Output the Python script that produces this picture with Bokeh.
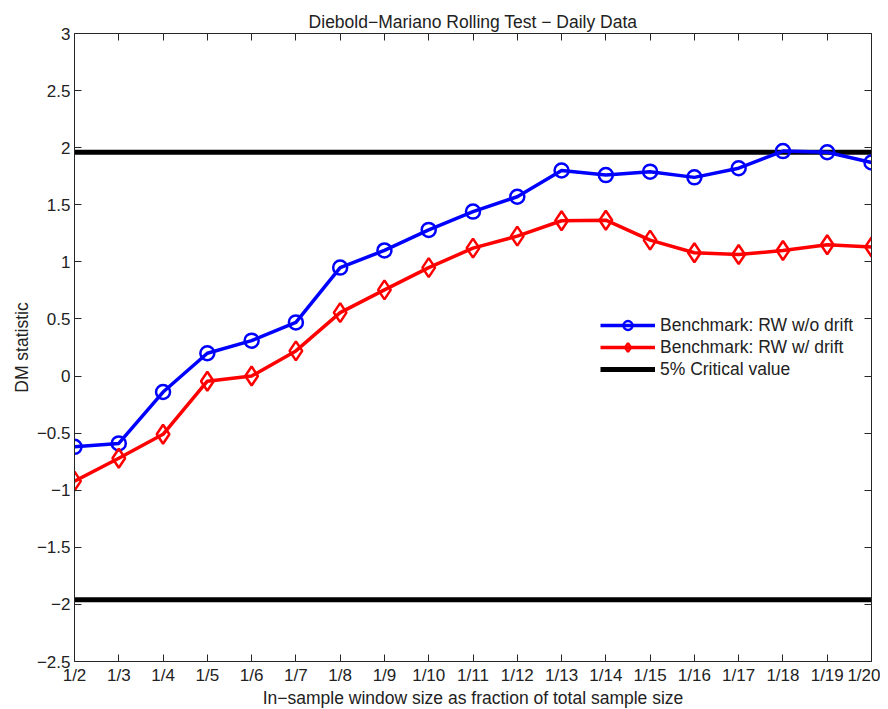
from bokeh.plotting import figure
from bokeh.models import Range1d, FixedTicker, LinearAxis, Legend, LegendItem
from bokeh.embed import file_html
from bokeh.resources import INLINE

categories = ["1/2", "1/3", "1/4", "1/5", "1/6", "1/7", "1/8", "1/9", "1/10", "1/11",
              "1/12", "1/13", "1/14", "1/15", "1/16", "1/17", "1/18", "1/19", "1/20"]
rw_no_drift = [-0.62, -0.59, -0.14, 0.20, 0.31, 0.47, 0.95, 1.10, 1.28, 1.44,
               1.57, 1.80, 1.76, 1.79, 1.74, 1.82, 1.97, 1.96, 1.87]
rw_drift = [-0.92, -0.72, -0.51, -0.045, 0.00, 0.22, 0.555, 0.755, 0.95, 1.12,
            1.225, 1.36, 1.365, 1.19, 1.08, 1.064, 1.10, 1.15, 1.13]
critical_value = 1.96
y_ticks = [-2.5, -2, -1.5, -1, -0.5, 0, 0.5, 1, 1.5, 2, 2.5, 3]

xs = list(range(len(categories)))
FONT = "Liberation Sans"
AXIS_COLOR = "#262626"
TEXT_COLOR = "#222222"

p = figure(frame_width=797, frame_height=628, output_backend="svg", toolbar_location=None,
           x_range=Range1d(0, len(categories) - 1), y_range=Range1d(-2.5, 3),
           min_border_left=74, min_border_right=9, min_border_top=33, min_border_bottom=40,
           title="Diebold\u2212Mariano Rolling Test \u2212 Daily Data")
p.title.align = "center"
p.title.text_font = FONT
p.title.text_font_size = "17.5px"
p.title.text_font_style = "normal"
p.title.text_color = TEXT_COLOR
p.title.offset = 0
p.title.standoff = 4

p.grid.visible = False
p.outline_line_color = None
p.background_fill_color = "white"

xlabels = {i: c for i, c in enumerate(categories)}
ylabels = {v: (("%g" % v).replace("-", "\u2212")) for v in y_ticks}

def style_axis(ax, show_labels):
    ax.axis_line_color = AXIS_COLOR
    ax.axis_line_width = 1
    ax.major_tick_line_color = AXIS_COLOR
    ax.major_tick_in = 7
    ax.major_tick_out = 0
    ax.minor_tick_line_color = None
    ax.major_label_text_font = FONT
    ax.major_label_text_font_size = "17px"
    ax.major_label_text_color = TEXT_COLOR
    if not show_labels:
        ax.major_label_text_font_size = "0px"
        ax.major_label_text_alpha = 0
        ax.major_label_standoff = 0

p.xaxis.ticker = FixedTicker(ticks=xs)
p.xaxis.major_label_overrides = xlabels
p.yaxis.ticker = FixedTicker(ticks=y_ticks)
p.yaxis.major_label_overrides = ylabels
style_axis(p.xaxis[0], True)
style_axis(p.yaxis[0], True)
p.xaxis.major_label_standoff = 4
p.yaxis.major_label_standoff = 4
p.xaxis.axis_label = "In\u2212sample window size as fraction of total sample size"
p.yaxis.axis_label = "DM statistic"
for ax in (p.xaxis[0], p.yaxis[0]):
    ax.axis_label_text_font = FONT
    ax.axis_label_text_font_size = "17.5px"
    ax.axis_label_text_font_style = "normal"
    ax.axis_label_text_color = TEXT_COLOR
p.xaxis.axis_label_standoff = 0
p.yaxis.axis_label_standoff = 2

top = LinearAxis(ticker=FixedTicker(ticks=xs), major_label_overrides=xlabels)
style_axis(top, False)
p.add_layout(top, "above")
right = LinearAxis(ticker=FixedTicker(ticks=y_ticks))
style_axis(right, False)
p.add_layout(right, "right")

# critical value lines
crit_hi = p.line(x=[xs[0], xs[-1]], y=[critical_value, critical_value], line_color="black", line_width=5)
crit_lo = p.line(x=[xs[0], xs[-1]], y=[-critical_value, -critical_value], line_color="black", line_width=5)

bl = p.line(xs, rw_no_drift, line_color="#0000ff", line_width=3.5)
bm = p.scatter(xs, rw_no_drift, marker="circle", size=14, fill_color=None,
               line_color="#0000ff", line_width=2.5)
rl = p.line(xs, rw_drift, line_color="#ff0000", line_width=3.5)
rm = p.scatter(xs, rw_drift, marker="diamond", size=19, fill_color=None,
               line_color="#ff0000", line_width=2.5)

legend = Legend(items=[
    LegendItem(label="Benchmark: RW w/o drift", renderers=[bl, bm]),
    LegendItem(label="Benchmark: RW w/ drift", renderers=[rl, rm]),
    LegendItem(label="5% Critical value", renderers=[crit_hi]),
], location=(522, 277))
legend.border_line_alpha = 0
legend.background_fill_alpha = 0
legend.label_text_font = FONT
legend.label_text_font_size = "17.5px"
legend.label_text_color = TEXT_COLOR
legend.glyph_width = 55
legend.glyph_height = 22
legend.label_standoff = 5
legend.spacing = 0
legend.padding = 4
legend.margin = 0
legend.label_height = 22
p.add_layout(legend, "center")

open("out.html", "w").write(file_html(p, INLINE))
